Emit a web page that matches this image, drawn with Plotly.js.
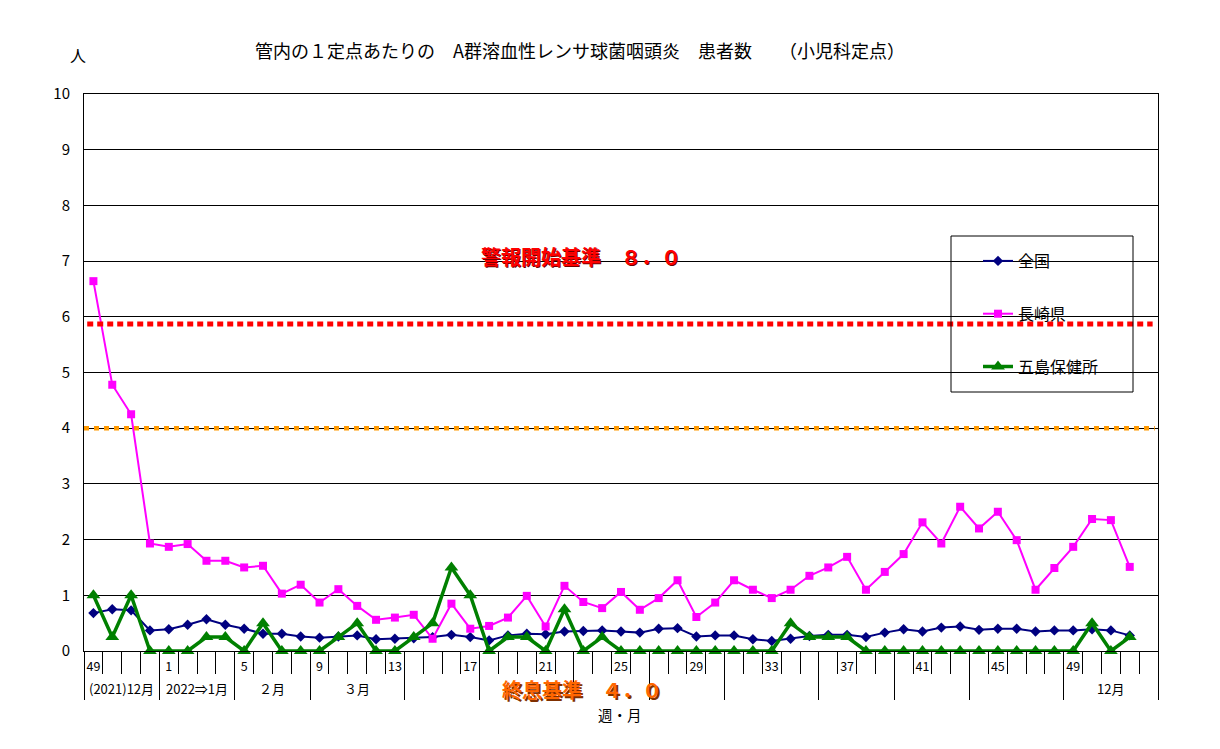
<!DOCTYPE html>
<html>
<head>
<meta charset="utf-8">
<script src="https://cdn.plot.ly/plotly-3.0.1.min.js"></script>
<style>
html,body{margin:0;padding:0;background:#fff;}
#chart{width:1220px;height:749px;}
</style>
</head>
<body>
<div id="chart"></div>
<script>
// ---- data ----
const weekNumbers = [49,50,51,52,1,2,3,4,5,6,7,8,9,10,11,12,13,14,15,16,17,18,19,20,21,22,23,24,25,26,27,28,29,30,31,32,33,34,35,36,37,38,39,40,41,42,43,44,45,46,47,48,49,50,51,52];
const labeledWeekIndex = [0,4,8,12,16,20,24,28,32,36,40,44,48,52];
const nationalValues = [0.68,0.75,0.73,0.37,0.39,0.47,0.57,0.47,0.40,0.31,0.31,0.26,0.24,0.26,0.28,0.21,0.22,0.23,0.25,0.29,0.25,0.19,0.28,0.31,0.30,0.35,0.36,0.37,0.35,0.33,0.40,0.41,0.26,0.28,0.28,0.21,0.18,0.22,0.27,0.29,0.29,0.25,0.33,0.39,0.35,0.42,0.44,0.38,0.40,0.40,0.35,0.37,0.37,0.39,0.37,0.28];
const nagasakiValues = [6.64,4.78,4.25,1.93,1.87,1.92,1.62,1.62,1.50,1.53,1.03,1.19,0.87,1.11,0.81,0.56,0.60,0.65,0.22,0.85,0.40,0.45,0.60,0.99,0.44,1.17,0.88,0.77,1.06,0.74,0.95,1.27,0.61,0.87,1.27,1.10,0.95,1.10,1.35,1.50,1.69,1.10,1.42,1.74,2.31,1.93,2.59,2.20,2.50,1.99,1.10,1.49,1.87,2.37,2.35,1.51];
const gotoValues = [1,0.25,1,0,0,0,0.25,0.25,0,0.5,0,0,0,0.25,0.5,0,0,0.25,0.5,1.5,1,0,0.25,0.25,0,0.75,0,0.25,0,0,0,0,0,0,0,0,0,0.5,0.25,0.25,0.25,0,0,0,0,0,0,0,0,0,0,0,0,0.5,0,0.25];
const seriesNames = ['全国','長崎県','五島保健所'];
const monthLabels = ['(2021)12月','2022⇒1月','２月','３月','','','','','','','','','12月'];
const monthBoundaries = [0,4,8,12,17,21,26,30,34,39,43,47,52,57]; // category index where each month starts
const categoryCount = 57;
const alarmLevel = 5.87;   // drawn level of the red line
const endLevel = 4.0;      // drawn level of the orange line
const alarmText = '警報開始基準　８．０';
const endText = '終息基準　４．０';
const titleText = '管内の１定点あたりの　A群溶血性レンサ球菌咽頭炎　患者数　　（小児科定点）';

// ---- build ----
const FONT = '"Noto Sans CJK JP", "Noto Sans", sans-serif';
const xIdx = weekNumbers.map((_, i) => i);
const allBoundaries = [];
for (let k = 0; k <= categoryCount; k++) allBoundaries.push(k - 0.5);
const longBoundaries = monthBoundaries.map(b => b - 0.5);
const xr = [-0.5, categoryCount - 0.5];

const traces = [
  {x: xIdx, y: nationalValues, name: seriesNames[0], type: 'scatter', mode: 'lines+markers',
   line: {color: '#000080', width: 2}, marker: {symbol: 'diamond', size: 8, color: '#000080'},
   cliponaxis: false, legendgroup: 'a'},
  {x: xIdx, y: nagasakiValues, name: seriesNames[1], type: 'scatter', mode: 'lines+markers',
   line: {color: '#FF00FF', width: 2}, marker: {symbol: 'square', size: 8, color: '#FF00FF'},
   cliponaxis: false, legendgroup: 'b'},
  {x: xIdx, y: gotoValues, name: seriesNames[2], type: 'scatter', mode: 'lines+markers',
   line: {color: '#008000', width: 3.5}, marker: {symbol: 'triangle-up', size: 12, color: '#008000'},
   cliponaxis: false, legendgroup: 'c'}
];

const annotations = [];
annotations.push({xref: 'paper', yref: 'paper', x: 0.4618, y: 1.079, text: titleText, showarrow: false,
  font: {family: FONT, size: 18, color: '#000'}, xanchor: 'center', yanchor: 'middle'});
annotations.push({xref: 'paper', yref: 'paper', x: -0.0056, y: 1.070, text: '人', showarrow: false,
  font: {family: FONT, size: 16, color: '#000'}, xanchor: 'center', yanchor: 'middle'});
// alarm text with shadow
annotations.push({xref: 'paper', yref: 'paper', x: 0.4627, y: 0.709, xshift: 1.5, yshift: -1.5, text: '<b>' + alarmText + '</b>', showarrow: false,
  font: {family: FONT, size: 20, color: '#700000'}, xanchor: 'center', yanchor: 'middle'});
annotations.push({xref: 'paper', yref: 'paper', x: 0.4627, y: 0.709, text: '<b>' + alarmText + '</b>', showarrow: false,
  font: {family: FONT, size: 20, color: '#FF0000'}, xanchor: 'center', yanchor: 'middle'});
annotations.push({xref: 'paper', yref: 'paper', x: 0.4637, y: -0.0700, xshift: 1.5, yshift: -1.5, text: '<b>' + endText + '</b>', showarrow: false,
  font: {family: FONT, size: 20, color: '#803000'}, xanchor: 'center', yanchor: 'middle', borderpad: 0});
annotations.push({xref: 'paper', yref: 'paper', x: 0.4637, y: -0.0700, text: '<b>' + endText + '</b>', showarrow: false,
  font: {family: FONT, size: 20, color: '#FF6600'}, xanchor: 'center', yanchor: 'middle', borderpad: 0});
annotations.push({xref: 'paper', yref: 'paper', x: 0.499, y: -0.1140, text: '週・月', showarrow: false,
  font: {family: FONT, size: 14.5, color: '#000'}, xanchor: 'center', yanchor: 'middle', borderpad: 0});
// month labels
for (let m = 0; m < monthLabels.length; m++) {
  if (!monthLabels[m]) continue;
  const c = (monthBoundaries[m] + monthBoundaries[m + 1]) / 2 - 0.5;
  annotations.push({xref: 'x', yref: 'paper', x: c, y: -0.0665, text: monthLabels[m], showarrow: false,
    font: {family: FONT, size: 13, color: '#000'}, xanchor: 'center', yanchor: 'middle'});
}

const shapes = [
  {type: 'line', xref: 'paper', yref: 'y', x0: 0.003, x1: 0.995, y0: alarmLevel, y1: alarmLevel,
   line: {color: '#FF0000', width: 5, dash: '6px,4px'}, layer: 'above'},
  {type: 'line', xref: 'paper', yref: 'y', x0: 0, x1: 0.997, y0: endLevel, y1: endLevel,
   line: {color: '#FF9900', width: 4.5, dash: '5px,5px'}, layer: 'above'},
  // legend frame
  {type: 'rect', xref: 'paper', yref: 'paper', x0: (951 - 84) / 1074, x1: (1133 - 84) / 1074,
   y0: (651 - 392) / 557, y1: (651 - 236) / 557, line: {color: '#000', width: 1}, fillcolor: 'rgba(0,0,0,0)', layer: 'above'}
];

const layout = {
  width: 1220, height: 749,
  margin: {l: 84, r: 62, t: 94, b: 98, pad: 0},
  paper_bgcolor: '#fff', plot_bgcolor: '#fff',
  font: {family: FONT, color: '#000'},
  showlegend: true,
  legend: {x: (978 - 84) / 1074, y: (651 - 244) / 557, xanchor: 'left', yanchor: 'top',
    bgcolor: 'rgba(0,0,0,0)', borderwidth: 0, font: {family: FONT, size: 16, color: '#000'},
    tracegroupgap: 29, itemwidth: 30, traceorder: 'grouped'},
  xaxis: {range: xr, showline: true, linecolor: '#000', linewidth: 1, mirror: true,
    showgrid: false, zeroline: false, tickmode: 'array', tickvals: labeledWeekIndex,
    ticktext: labeledWeekIndex.map(i => String(weekNumbers[i])), ticks: '',
    tickfont: {family: FONT, size: 12.5, color: '#000'}, ticklabelstandoff: 4, fixedrange: true},
  xaxis2: {range: xr, overlaying: 'x', anchor: 'y', side: 'bottom', showline: false, showgrid: false,
    zeroline: false, tickmode: 'array', tickvals: allBoundaries, ticks: 'outside', ticklen: 22,
    tickcolor: '#000', tickwidth: 1, showticklabels: false},
  xaxis3: {range: xr, overlaying: 'x', anchor: 'y', side: 'bottom', showline: false, showgrid: false,
    zeroline: false, tickmode: 'array', tickvals: longBoundaries, ticks: 'outside', ticklen: 48,
    tickcolor: '#000', tickwidth: 1, showticklabels: false},
  yaxis: {range: [0, 10], dtick: 1, tick0: 0, showline: true, linecolor: '#000', linewidth: 1, mirror: true,
    showgrid: true, gridcolor: '#000', gridwidth: 1, zeroline: false, ticks: '',
    tickfont: {family: FONT, size: 15, color: '#000'}, ticklabelstandoff: 10},
  annotations: annotations,
  shapes: shapes
};

// invisible helpers so the overlay tick axes render
traces.push({x: [0], y: [0], xaxis: 'x2', yaxis: 'y', mode: 'markers', marker: {opacity: 0}, showlegend: false, hoverinfo: 'skip'});
traces.push({x: [0], y: [0], xaxis: 'x3', yaxis: 'y', mode: 'markers', marker: {opacity: 0}, showlegend: false, hoverinfo: 'skip'});

Plotly.newPlot('chart', traces, layout, {displayModeBar: false, staticPlot: true});
</script>
</body>
</html>
